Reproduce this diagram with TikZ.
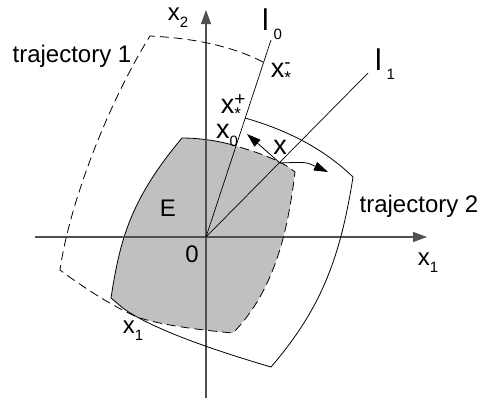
\documentclass[tikz,border=0pt]{standalone}
\usepackage{fontspec}
\setmainfont{Liberation Sans}
\usetikzlibrary{arrows.meta}
\definecolor{regionfill}{RGB}{192,192,192}
\definecolor{axisgray}{RGB}{80,80,80}
\newcommand\lowidx[1]{\raisebox{-0.3em}{\fontsize{15}{15}\selectfont #1}}
\newcommand\highidx[1]{\raisebox{0.32em}{\fontsize{19}{19}\selectfont #1}}
\newcommand\staridx{\raisebox{-0.22em}{\fontsize{17}{17}\selectfont *}}
\tikzset{
  font=\fontsize{24}{28}\selectfont,
  axisline/.style={draw=axisgray, line width=1.1pt, -{Triangle[length=14pt, width=10pt]}},
  rayline/.style={draw=black, line width=0.7pt},
  trajsolid/.style={draw=black, line width=0.8pt},
  trajdashed/.style={draw=black, line width=0.8pt, dash pattern=on 9pt off 5pt},
  motionarrow/.style={draw=black, line width=0.8pt, -{Triangle[length=14pt, width=9pt]}},
  ptlabel/.style={inner sep=0pt, font=\fontsize{27}{30}\selectfont},
  plainlabel/.style={inner sep=0pt}
}

\begin{document}
\begin{tikzpicture}[x=1pt, y=-1pt]
  \useasboundingbox (0,0) rectangle (481,402);

  % Axes and rays
  \coordinate (O) at (206,237);
  \coordinate (xaxisL) at (35,237);
  \coordinate (xaxisR) at (427,237);
  \coordinate (yaxisB) at (206,398);
  \coordinate (yaxisT) at (206,10);
  \coordinate (lzeroEnd) at (271,40);
  \coordinate (loneEnd) at (368,73);

  % Points on the trajectories
  \coordinate (xminus) at (263,62);
  \coordinate (xplus) at (245,118);
  \coordinate (xzero) at (236,146);
  \coordinate (xone) at (137,317);
  \coordinate (Ecorner) at (111,298);
  \coordinate (Etop) at (182,138);
  \coordinate (Eright) at (295,172);
  \coordinate (Ebottom) at (233,333);
  \coordinate (T1corner) at (150,36);
  \coordinate (T1left) at (60,270);
  \coordinate (T2corner) at (353,177);
  \coordinate (T2bottom) at (271,367);
  \coordinate (P) at (280,163);
  \coordinate (arrowA) at (247,134);
  \coordinate (arrowB) at (328,172);

  % Region E
  \fill[regionfill] (Ecorner) .. controls (120,240) and (130,200) .. (Etop)
    .. controls (200,138) and (220,141) .. (xzero)
    .. controls (260,153) and (282,161) .. (Eright)
    .. controls (288,230) and (275,290) .. (Ebottom)
    .. controls (200,330) and (160,325) .. (xone)
    .. controls (125,310) .. (Ecorner) -- cycle;
  \draw[trajsolid] (Ecorner) .. controls (120,240) and (130,200) .. (Etop)
    .. controls (200,138) and (220,141) .. (xzero);

  % Axes
  \draw[axisline] (xaxisL) -- (xaxisR);
  \draw[axisline] (yaxisB) -- (yaxisT);
  \draw[rayline] (O) -- (lzeroEnd);
  \draw[rayline] (O) -- (loneEnd);

  % Trajectory 1 (dashed)
  \draw[trajdashed] (xminus) .. controls (230,45) and (190,38) .. (T1corner)
    .. controls (110,100) and (70,200) .. (T1left)
    .. controls (80,285) and (110,305) .. (xone)
    .. controls (160,325) and (200,330) .. (Ebottom)
    .. controls (275,290) and (288,230) .. (Eright)
    .. controls (282,161) and (260,153) .. (xzero);

  % Trajectory 2 (solid)
  \draw[trajsolid] (xplus) .. controls (280,128) and (320,145) .. (T2corner)
    .. controls (340,260) and (320,310) .. (T2bottom)
    .. controls (220,352) and (170,335) .. (xone)
    .. controls (125,310) .. (Ecorner);

  % Motion arrows
  \draw[motionarrow] (P) -- (arrowA);
  \draw[motionarrow] (P) .. controls (306,162) .. (arrowB);

  % Labels
  \node[plainlabel] (labXtwo) at (178,18) {x\lowidx{2}};
  \node[plainlabel] (labXoneAxis) at (428,263) {x\lowidx{1}};
  \node[plainlabel] (labTrajOne) at (72,56) {trajectory 1};
  \node[plainlabel] (labTrajTwo) at (419,206) {trajectory 2};
  \node[plainlabel, font=\fontsize{30}{32}\selectfont] (labLzero) at (272,24) {l\,\lowidx{0}};
  \node[plainlabel, font=\fontsize{30}{32}\selectfont] (labLone) at (385,64) {l\,\lowidx{1}};
  \node[ptlabel] (labXminus) at (281,73) {x\rlap{\highidx{-}}\staridx};
  \node[ptlabel] (labXplus) at (231,107) {x\rlap{\highidx{+}}\staridx};
  \node[ptlabel] (labXzero) at (227,135) {x\lowidx{0}};
  \node[ptlabel] (labX) at (280,147) {x};
  \node[plainlabel] (labE) at (168,208) {E};
  \node[plainlabel] (labO) at (192,254) {0};
  \node[plainlabel] (labXonePt) at (133,331) {x\lowidx{1}};
\end{tikzpicture}
\end{document}
